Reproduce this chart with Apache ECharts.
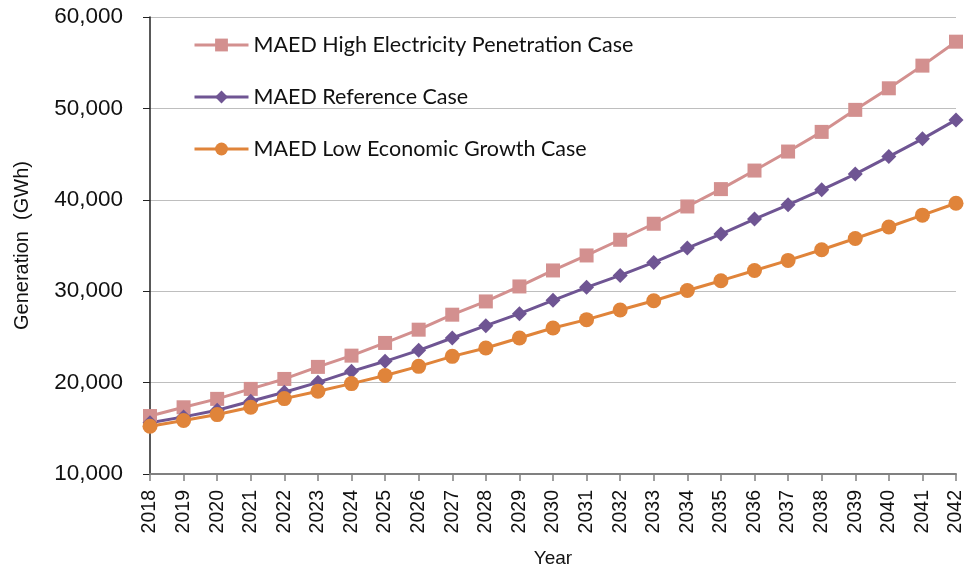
<!DOCTYPE html>
<html>
<head>
<meta charset="utf-8">
<style>
  html, body { margin: 0; padding: 0; background: #fff; }
  #chart { width: 965px; height: 571px; }
</style>
<script src="https://cdn.jsdelivr.net/npm/echarts@6/dist/echarts.min.js"></script>
</head>
<body>
<div id="chart"></div>
<script>
const years = ["2018", "2019", "2020", "2021", "2022", "2023", "2024", "2025", "2026", "2027", "2028", "2029",
  "2030", "2031", "2032", "2033", "2034", "2035", "2036", "2037", "2038", "2039", "2040", "2041", "2042"];

const highCase = [16340, 17300, 18220, 19310, 20400, 21720, 22950, 24340, 25790, 27430, 28880, 30520,
  32270, 33910, 35630, 37380, 39270, 41170, 43200, 45280, 47430, 49840, 52200, 54680, 57300];

const referenceCase = [15600, 16250, 16970, 17960, 18940, 20030, 21230, 22330, 23530, 24880, 26230, 27540,
  29000, 30420, 31730, 33150, 34720, 36250, 37890, 39450, 41090, 42810, 44730, 46670, 48740];

const lowCase = [15220, 15850, 16500, 17300, 18250, 19050, 19890, 20770, 21780, 22870, 23790, 24880,
  25980, 26890, 27940, 28960, 30070, 31150, 32270, 33370, 34540, 35770, 37020, 38320, 39620];

const seriesNames = ["MAED High Electricity Penetration Case", "MAED Reference Case", "MAED Low Economic Growth Case"];

const chart = echarts.init(document.getElementById("chart"));

// 三条曲线共用的样式
function makeSeries(name, data, color, symbol, size) {
  return {
    name: name,
    type: "line",
    data: data,
    symbol: symbol,
    symbolSize: size,
    showAllSymbol: true,
    lineStyle: { color: color, width: 3 },
    itemStyle: { color: color },
    animation: false,
  };
}

const option = {
  backgroundColor: "#fff",
  textStyle: { fontFamily: "Liberation Sans, Arial, sans-serif" },
  grid: { left: 150, right: 9, top: 17, bottom: 97, containLabel: false, outerBoundsMode: "none" },
  legend: {
    orient: "vertical",
    left: 193,
    top: 34,
    padding: 0,
    itemGap: 30,
    itemWidth: 54,
    itemHeight: 16,
    lineStyle: { width: 3 },
    data: seriesNames,
    textStyle: { fontFamily: "Lato, sans-serif", fontSize: 21.5, color: "#111" },
  },
  xAxis: {
    type: "category",
    data: years,
    boundaryGap: false,
    name: "Year",
    nameLocation: "middle",
    nameGap: 75,
    nameTextStyle: { fontSize: 19, color: "#111" },
    axisLine: { lineStyle: { color: "#808080", width: 2 } },
    axisTick: { length: 7, lineStyle: { color: "#808080", width: 1.5 } },
    axisLabel: { rotate: 90, fontSize: 19.5, color: "#111", margin: 16 },
  },
  yAxis: {
    type: "value",
    min: 10000,
    max: 60000,
    interval: 10000,
    name: "Generation  (GWh)",
    nameLocation: "middle",
    nameGap: 118,
    nameTextStyle: { fontSize: 20, color: "#111" },
    axisLine: { show: true, lineStyle: { color: "#222", width: 1.5 } },
    axisTick: { show: true, length: 7, lineStyle: { color: "#222" } },
    axisLabel: {
      fontSize: 22.5,
      color: "#111",
      margin: 27,
      formatter: (v) => v.toLocaleString("en-US"),
    },
    splitLine: { lineStyle: { color: "#BEBEBE", width: 1.2 } },
  },
  series: [
    makeSeries(seriesNames[0], highCase, "#D3908F", "rect", 14),
    makeSeries(seriesNames[1], referenceCase, "#6F5593", "diamond", 15),
    makeSeries(seriesNames[2], lowCase, "#E0843A", "circle", 15),
  ],
};

chart.setOption(option);
</script>
</body>
</html>
